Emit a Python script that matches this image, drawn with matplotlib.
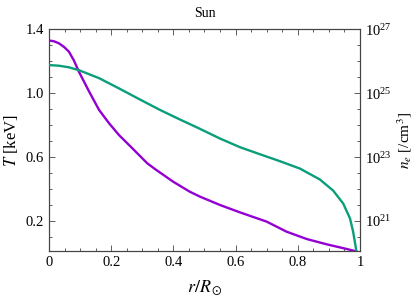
import numpy as np
import matplotlib
matplotlib.use("Agg")
import matplotlib.pyplot as plt
from matplotlib.ticker import FixedLocator, NullFormatter

plt.rcParams['font.family'] = ['Liberation Serif', 'DejaVu Serif']
plt.rcParams['mathtext.fontset'] = 'stix'

# temperature profile, T [keV] vs r/Rsun
r_T = [0, 0.016, 0.032, 0.048, 0.064, 0.08, 0.096, 0.129, 0.161, 0.193, 0.225,
       0.268, 0.316, 0.346, 0.40, 0.453, 0.486, 0.55, 0.614, 0.70, 0.764, 0.829,
       0.893, 0.957, 0.988]
T_keV = [1.33, 1.325, 1.312, 1.29, 1.26, 1.205, 1.135, 1.01, 0.895, 0.812, 0.738,
         0.655, 0.561, 0.518, 0.445, 0.383, 0.352, 0.30, 0.254, 0.196, 0.133, 0.087,
         0.054, 0.025, 0.01]

# electron density, log10(n_e [/cm^3]) vs r/Rsun
r_ne = [0, 0.032, 0.064, 0.096, 0.161, 0.225, 0.289, 0.354, 0.418, 0.482, 0.55,
        0.614, 0.678, 0.743, 0.807, 0.871, 0.914, 0.946, 0.968, 0.978, 0.987, 0.989]
log_ne = [25.88, 25.86, 25.81, 25.72, 25.47, 25.15, 24.82, 24.49, 24.19, 23.9, 23.58,
          23.31, 23.09, 22.87, 22.64, 22.3, 21.95, 21.55, 21.08, 20.67, 20.15, 20.0]
ne = [10 ** v for v in log_ne]

purple = '#9400d3'
green = '#0a9e7a'

fig = plt.figure(figsize=(4.2, 3.01), dpi=100)
ax = fig.add_axes([0.1167, 0.165, 0.7403, 0.7377])
ax2 = ax.twinx()

ax.plot(r_T, T_keV, color=purple, lw=1.7, zorder=3, solid_joinstyle='round')
ax2.plot(r_ne, ne, color=green, lw=1.7, zorder=3, solid_joinstyle='round')

ax.set_xlim(0, 1)
ax.set_ylim(0.01, 1.4)
ax2.set_yscale('log')
ax2.set_ylim(10 ** 20.05, 1e27)

ax.set_xticks([0, 0.2, 0.4, 0.6, 0.8, 1.0])
ax.set_xticklabels(['0', '0.2', '0.4', '0.6', '0.8', '1'])
ax.xaxis.set_minor_locator(FixedLocator(np.arange(0, 1.001, 0.05)))
ax.set_yticks([0.2, 0.6, 1.0, 1.4])
ax.set_yticklabels(['0.2', '0.6', '1.0', '1.4'])
ax.yaxis.set_minor_locator(FixedLocator(np.arange(0.1, 1.41, 0.1)))

ax2.yaxis.set_major_locator(FixedLocator([1e21, 1e23, 1e25, 1e27]))
ax2.yaxis.set_minor_locator(FixedLocator([10 ** e for e in np.arange(20.5, 27, 0.5)]))
ax2.yaxis.set_minor_formatter(NullFormatter())

frame = '#444444'
for a in (ax, ax2):
    for s in a.spines.values():
        s.set_color(frame)
        s.set_linewidth(0.8)
ax.tick_params(which='both', direction='in', top=True, right=False, colors=frame,
               labelcolor='black', labelsize=10.5, width=0.6)
ax.tick_params(which='major', length=4)
ax.tick_params(which='minor', length=2.2)
ax2.tick_params(which='both', direction='in', colors=frame, labelcolor='black',
                labelsize=10.5, width=0.6)
ax2.tick_params(which='major', length=4)
ax2.tick_params(which='minor', length=2.2)

ax.set_xlabel(r'$r/R_\odot$', fontsize=13, labelpad=6)
ax.set_ylabel(r'$T$ [keV]', fontsize=12, labelpad=4)
ax2.set_ylabel(r'$n_e$ [/cm$^3$]', fontsize=11, labelpad=3)
ax.set_title('Sun', fontsize=10, pad=9)

fig.savefig('out.png', dpi=100)
